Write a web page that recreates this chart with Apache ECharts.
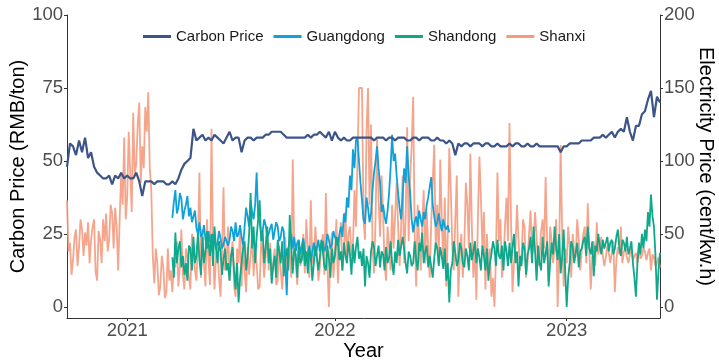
<!DOCTYPE html>
<html>
<head>
<meta charset="utf-8">
<script src="https://cdn.jsdelivr.net/npm/echarts@6/dist/echarts.min.js"></script>
<style>
  html, body { margin: 0; padding: 0; background: #ffffff; }
  #chart { width: 719px; height: 361px; }
</style>
</head>
<body>
<div id="chart"></div>
<script>
// x is the observation index; year labels sit on the first observation of each year
const yearTickIdx = [20, 89, 166]
const yearLabels = ['2021', '2022', '2023']
const carbonTicks = [0, 25, 50, 75, 100]
const elecTicks = [0, 50, 100, 150, 200]

// Carbon price, RMB/ton (left axis), one value per index
const carbonPrice = [
  48, 56, 55, 52, 57, 53, 58, 51, 53, 48,
  46, 45, 44, 44, 45, 42, 45, 44, 46, 44,
  45, 44, 44, 46, 43, 38, 43, 43, 43, 42,
  43, 43, 43, 42, 42, 43, 42, 44, 47, 49,
  50, 51, 61, 57, 58, 59, 57, 58, 57, 59,
  58, 57, 56, 58, 60, 57, 58, 58, 53, 57,
  58, 58, 57, 58, 58, 58, 59, 59, 60, 60,
  60, 60, 59, 58, 58, 58, 58, 58, 58, 58,
  59, 58, 59, 59, 60, 59, 58, 60, 57, 60,
  58, 57, 58, 57, 57, 58, 58, 58, 58, 58,
  58, 58, 57, 58, 58, 58, 57, 58, 58, 57,
  58, 58, 58, 57, 57, 58, 58, 57, 58, 58,
  58, 57, 57, 58, 57, 57, 56, 57, 56, 52,
  56, 55, 56, 56, 55, 56, 56, 56, 55, 56,
  56, 55, 55, 56, 55, 55, 55, 56, 55, 56,
  56, 55, 55, 56, 55, 55, 56, 55, 55, 55,
  55, 55, 55, 55, 53, 55, 55, 56, 56, 56,
  56, 57, 57, 57, 57, 58, 58, 58, 59, 58,
  59, 60, 58, 60, 61, 60, 65, 60, 57, 62,
  62, 66, 67, 71, 74, 65, 72, 70
]

// Electricity prices, cent/kw.h (right axis), sampled on a half-index step
const guangdongStart = 35
const guangdong = [
  61, 72, 80, 64, 68, 78, 74, 60, 66, 70, 76, 62, 68, 58, 62, 66, 54, 50, 58, 48,
  50, 56, 46, 40, 52, 45, 41, 50, 48, 40, 44, 52, 47, 40, 43, 48, 49, 42, 46, 55,
  52, 45, 58, 48, 50, 56, 48, 42, 55, 68, 62, 55, 73, 65, 60, 70, 92, 62, 58, 50,
  52, 60, 56, 48, 50, 54, 57, 46, 52, 58, 55, 45, 48, 55, 52, 30, 8, 40, 45, 50,
  40, 48, 38, 44, 46, 36, 42, 47, 39, 33, 36, 42, 31, 38, 44, 35, 40, 46, 38, 43,
  45, 38, 41, 50, 46, 40, 43, 52, 48, 45, 42, 50, 55, 48, 64, 58, 75, 68, 90, 80,
  108, 95, 114, 116, 100, 85, 73, 60, 57, 75, 68, 58, 64, 80, 92, 100, 110, 95, 85, 65,
  70, 62, 57, 66, 78, 95, 118, 100, 105, 90, 78, 68, 60, 75, 95, 85, 110, 90, 78, 60,
  51, 58, 62, 55, 66, 60, 55, 65, 60, 70, 75, 82, 89, 70, 62, 55, 58, 64, 57, 52,
  60, 55, 53, 56, 51
]

const shandongStart = 35
const shandong = [
  34, 20, 51, 30, 40, 45, 27, 35, 22, 30, 18, 42, 40, 25, 48, 30, 35, 50, 32, 22,
  48, 30, 38, 52, 44, 35, 50, 28, 55, 40, 30, 45, 38, 22, 33, 40, 25, 30, 18, 35,
  41, 25, 12, 30, 3, 20, 30, 40, 45, 25, 34, 50, 78, 40, 55, 30, 48, 60, 73, 45,
  52, 30, 41, 55, 30, 40, 16, 28, 35, 20, 46, 38, 30, 45, 21, 35, 40, 25, 63, 40,
  23, 40, 36, 20, 44, 30, 32, 45, 28, 38, 23, 40, 35, 18, 30, 42, 41, 25, 34, 46,
  38, 28, 25, 42, 33, 20, 40, 30, 35, 48, 46, 32, 38, 25, 44, 35, 30, 45, 36, 22,
  43, 30, 41, 48, 33, 38, 28, 40, 14, 35, 30, 20, 38, 45, 41, 28, 35, 42, 27, 38,
  36, 25, 41, 30, 34, 45, 30, 22, 38, 30, 46, 35, 34, 48, 40, 30, 23, 38, 35, 28,
  30, 45, 32, 25, 44, 38, 51, 30, 38, 42, 27, 35, 36, 20, 33, 44, 40, 28, 41, 35,
  26, 40, 18, 30, 3, 25, 30, 45, 37, 28, 32, 44, 40, 30, 27, 40, 35, 25, 44, 32,
  38, 45, 30, 40, 34, 25, 42, 35, 25, 40, 18, 30, 36, 45, 40, 28, 46, 35, 33, 42,
  25, 45, 38, 28, 44, 30, 41, 50, 30, 38, 14, 35, 28, 44, 40, 22, 36, 40, 48, 30,
  55, 38, 18, 42, 30, 25, 48, 30, 36, 45, 14, 30, 44, 36, 55, 40, 32, 50, 23, 35,
  53, 25, 0, 20, 30, 45, 41, 30, 37, 44, 27, 38, 40, 45, 48, 35, 55, 40, 36, 45,
  21, 42, 38, 50, 42, 36, 46, 40, 41, 48, 38, 44, 46, 36, 40, 48, 53, 40, 35, 46,
  44, 38, 48, 36, 40, 45, 30, 20, 7, 30, 44, 36, 50, 40, 53, 45, 65, 55, 77, 62,
  55, 35, 5, 25, 37
]

const shanxi = [
  73, 38, 44, 22, 32, 48, 53, 28, 41, 60, 53, 35, 51, 42, 58, 30, 46, 55, 60, 24,
  18, 52, 46, 30, 60, 45, 64, 38, 46, 70, 64, 40, 68, 55, 25, 60, 92, 70, 116, 60,
  75, 120, 92, 65, 133, 90, 98, 125, 140, 85, 110, 95, 137, 120, 147, 95, 80, 35, 16, 40,
  30, 8, 14, 35, 27, 6, 10, 40, 18, 25, 10, 30, 27, 45, 14, 28, 53, 22, 12, 40,
  34, 20, 12, 50, 41, 25, 18, 45, 92, 20, 53, 30, 14, 60, 32, 15, 122, 40, 12, 35,
  41, 20, 7, 38, 82, 25, 30, 55, 18, 35, 45, 15, 7, 40, 30, 55, 14, 42, 25, 10,
  41, 22, 35, 50, 21, 40, 30, 12, 14, 45, 38, 20, 34, 55, 25, 44, 18, 30, 40, 15,
  18, 42, 25, 12, 30, 48, 22, 40, 35, 20, 101, 40, 30, 15, 45, 28, 34, 50, 23, 60,
  40, 20, 73, 30, 32, 55, 39, 18, 27, 42, 50, 22, 78, 30, 0, 40, 51, 20, 35, 60,
  16, 45, 58, 25, 40, 65, 30, 50, 55, 35, 42, 80, 55, 100, 150, 150, 150, 60, 46, 120,
  150, 70, 125, 40, 23, 60, 116, 75, 48, 90, 64, 30, 18, 55, 41, 25, 70, 40, 41, 85,
  55, 28, 55, 90, 30, 60, 123, 45, 90, 110, 144, 50, 14, 70, 45, 25, 55, 80, 30, 65,
  40, 20, 58, 85, 111, 40, 70, 30, 101, 60, 30, 75, 14, 50, 109, 80, 41, 25, 60, 90,
  7, 35, 50, 20, 41, 85, 70, 40, 105, 55, 20, 45, 5, 60, 103, 75, 40, 65, 12, 50,
  25, 40, 7, 20, 0, 35, 92, 45, 60, 20, 32, 55, 75, 45, 126, 60, 10, 30, 41, 70,
  46, 25, 34, 60, 55, 20, 30, 50, 66, 35, 41, 65, 48, 28, 34, 52, 60, 40, 89, 45,
  18, 55, 45, 30, 41, 60, 0, 35, 111, 50, 14, 40, 30, 55, 41, 20, 50, 38, 34, 60,
  46, 25, 38, 50, 55, 30, 71, 40, 12, 35, 45, 28, 58, 36, 41, 48, 35, 28, 34, 42,
  37, 30, 30, 45, 10, 32, 41, 36, 55, 30, 38, 40, 34, 30, 36, 40, 32, 35, 37, 30,
  41, 33, 35, 40, 38, 32, 37, 40, 25, 36, 34, 28, 30, 34, 27
]

const toPoints = (vals, start = 0, step = 1) => vals.map((v, i) => [start + i * step, v])

const chart = echarts.init(document.getElementById('chart'))

const axisLineStyle = { color: '#333333', width: 1 }
const tickLabel = { color: '#4d4d4d', fontSize: 18.5 }
const titleStyle = { color: '#000000', fontSize: 20 }

const lineSeries = (name, data, color, yAxisIndex, extra = {}) => ({
  name,
  type: 'line',
  yAxisIndex,
  data,
  showSymbol: false,
  symbol: 'none',
  connectNulls: false,
  lineStyle: { color, width: 2, ...extra },
  itemStyle: { color },
  emphasis: { disabled: true },
})

const option = {
  animation: false,
  textStyle: { fontFamily: 'Liberation Sans, Arial, sans-serif' },
  grid: { left: 67, right: 59, top: 15, bottom: 43, containLabel: false, outerBoundsMode: 'none' },
  legend: {
    top: 24,
    left: 138,
    icon: 'rect',
    itemWidth: 28,
    itemHeight: 3,
    itemGap: 10,
    textStyle: { fontSize: 15, color: '#1a1a1a' },
    data: ['Carbon Price', 'Guangdong', 'Shandong', 'Shanxi'],
  },
  xAxis: {
    type: 'value',
    min: 0,
    max: carbonPrice.length - 1,
    name: 'Year',
    nameLocation: 'middle',
    nameGap: 23,
    nameMoveOverlap: false,
    nameTextStyle: titleStyle,
    axisLine: { show: true, onZero: false, lineStyle: axisLineStyle },
    axisTick: { show: true, length: 3, customValues: yearTickIdx, lineStyle: axisLineStyle },
    axisLabel: {
      ...tickLabel,
      margin: 3,
      customValues: yearTickIdx,
      formatter: (v) => yearLabels[yearTickIdx.indexOf(v)] ?? '',
    },
    splitLine: { show: false },
  },
  yAxis: [
    {
      type: 'value',
      position: 'left',
      min: -3.8,
      max: 100,
      name: 'Carbon Price (RMB/ton)',
      nameLocation: 'middle',
      nameGap: 39,
      nameMoveOverlap: false,
      nameTextStyle: titleStyle,
      axisLine: { show: true, onZero: false, lineStyle: axisLineStyle },
      axisTick: { show: true, length: 3, customValues: carbonTicks, lineStyle: axisLineStyle },
      axisLabel: { ...tickLabel, margin: 4, customValues: carbonTicks },
      splitLine: { show: false },
    },
    {
      type: 'value',
      position: 'right',
      min: -7.6,
      max: 200,
      name: 'Electricity Price (cent/kw.h)',
      nameLocation: 'middle',
      nameRotate: -90,
      nameGap: 36,
      nameMoveOverlap: false,
      nameTextStyle: titleStyle,
      axisLine: { show: true, onZero: false, lineStyle: axisLineStyle },
      axisTick: { show: true, length: 3, customValues: elecTicks, lineStyle: axisLineStyle },
      axisLabel: { ...tickLabel, margin: 4, customValues: elecTicks },
      splitLine: { show: false },
    },
  ],
  // Shanxi goes underneath so the other lines stay readable
  series: [
    lineSeries('Shanxi', toPoints(shanxi, 0, 0.5), '#f39b7f', 1, { width: 1.8, opacity: 0.9 }),
    lineSeries('Guangdong', toPoints(guangdong, guangdongStart, 0.5), '#0ea2d8', 1, { width: 1.8 }),
    lineSeries('Shandong', toPoints(shandong, shandongStart, 0.5), '#0fa88a', 1, { width: 1.8 }),
    lineSeries('Carbon Price', toPoints(carbonPrice), '#3c5488', 0, { width: 2.2 }),
  ],
}

chart.setOption(option)
</script>
</body>
</html>
